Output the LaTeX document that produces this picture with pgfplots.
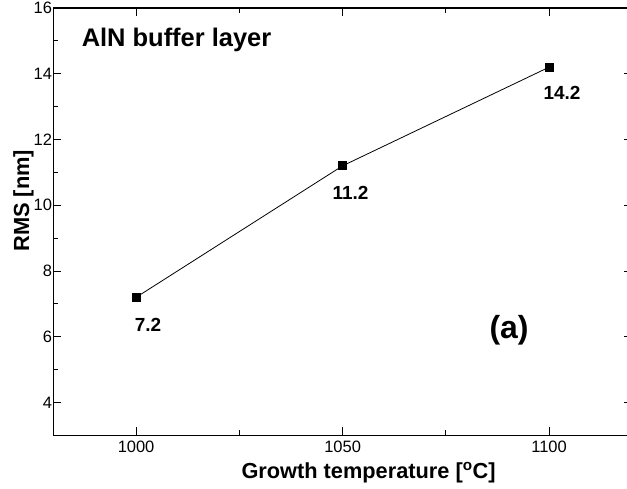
\documentclass[border=0pt]{standalone}
\usepackage{pgfplots}
\pgfplotsset{compat=1.18}
\usepackage{fontspec}
\setmainfont{Liberation Sans}
\begin{document}
\begin{tikzpicture}
\begin{axis}[
  scale only axis,
  width=579.2pt, height=428.2pt,
  xmin=980, xmax=1120, ymin=3, ymax=16,
  xtick={1000,1050,1100},
  ytick={4,6,8,10,12,14,16},
  minor x tick num=1, minor y tick num=1,
  tick align=inside,
  major tick length=8pt, minor tick length=5pt,
  every tick/.style={line width=1pt, black},
  axis line style={line width=1.6pt},
  /pgf/number format/assume math mode=true,
  /pgf/number format/1000 sep={},
  tick label style={font=\fontsize{16.5}{19}\selectfont},
  xticklabel style={yshift=-2pt},
  yticklabel style={xshift=2pt},
  xlabel={Growth temperature [\textsuperscript{o}C]},
  ylabel={RMS [nm]},
  xlabel style={font=\fontsize{21.8}{24}\selectfont\bfseries, xshift=26pt, yshift=-3pt},
  ylabel style={font=\fontsize{21.9}{24}\selectfont\bfseries, at={(ticklabel cs:0.549)}, yshift=-7pt},
  clip=false,
]
\addplot[black, line width=0.8pt, mark=square*, mark size=4pt, mark options={solid, line width=0pt}]
  coordinates {(1000,7.2) (1050,11.2) (1100,14.2)};
\node[font=\fontsize{19}{22}\selectfont\bfseries] at (axis cs:1000,7.2) [xshift=12pt, yshift=-28pt] {7.2};
\node[font=\fontsize{19}{22}\selectfont\bfseries] at (axis cs:1050,11.2) [xshift=8pt, yshift=-27pt] {11.2};
\node[font=\fontsize{19}{22}\selectfont\bfseries] at (axis cs:1100,14.2) [xshift=13pt, yshift=-26pt] {14.2};
\node[font=\fontsize{25.5}{28}\selectfont\bfseries, anchor=base west, inner sep=0pt] at (axis cs:986.8,14.82) {AlN buffer layer};
\node[font=\fontsize{32}{36}\selectfont\bfseries] at (axis cs:1090.3,6.19) {(a)};
\coordinate (BBL) at (axis cs:967.05,1.398);
\coordinate (BTR) at (axis cs:1118.86,16.243);
\end{axis}
\pgfresetboundingbox
\useasboundingbox (BBL) rectangle (BTR);
\end{tikzpicture}
\end{document}
